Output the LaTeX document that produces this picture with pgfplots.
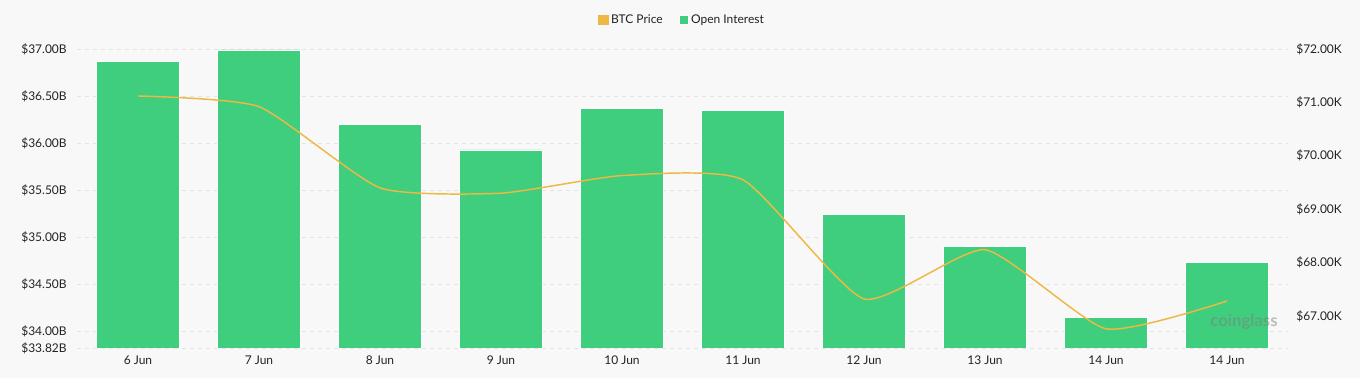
\documentclass[border=0pt]{standalone}
\usepackage{pgfplots}
\pgfplotsset{compat=1.18}
\usepackage{fontspec}
\setmainfont{Lato}
\definecolor{bggray}{HTML}{F8F8F8}
\definecolor{oigreen}{HTML}{3ECE7E}
\definecolor{btcgold}{HTML}{EDB844}
\definecolor{gridc}{HTML}{E4E4E4}
\definecolor{txt}{HTML}{222222}
\begin{document}
\begin{tikzpicture}[font=\fontsize{9}{11}\selectfont, text=txt]
\fill[bggray, use as bounding box] (-58.125pt,-22.5pt) rectangle (961.875pt,261pt);
\begin{axis}[
  at={(0,0)}, anchor=south west,
  scale only axis, width=907.5pt, height=224.25pt,
  xmin=-0.5, xmax=9.5, ymin=33.82, ymax=37.0,
  axis line style={draw=none}, major tick length=0pt,
  xtick={0,...,9},
  xticklabels={6 Jun,7 Jun,8 Jun,9 Jun,10 Jun,11 Jun,12 Jun,13 Jun,14 Jun,14 Jun},
  xticklabel style={anchor=north, inner sep=0pt, yshift=-5.5pt},
  ytick={33.82,34,34.5,35,35.5,36,36.5,37},
  yticklabels={\$33.82B,\$34.00B,\$34.50B,\$35.00B,\$35.50B,\$36.00B,\$36.50B,\$37.00B},
  yticklabel style={anchor=east, inner sep=0pt, xshift=-7.9pt},
  ymajorgrids, grid style={gridc, dash pattern=on 3pt off 3pt, line width=0.5pt},
  legend columns=2,
  legend style={at={(0.5,1.097)}, anchor=center, draw=none, fill=none,
    font=\fontsize{9}{11}\selectfont, inner sep=0pt,
    /tikz/every even column/.append style={column sep=10pt}},
  legend image code/.code={\fill[#1] (0pt,-3.5pt) rectangle (7pt,3.5pt);},
]
\addlegendimage{btcgold}
\addlegendentry{BTC Price}
\addplot[ybar, bar width=0.686, fill=oigreen, draw=white, line width=0.3pt]
  coordinates {(0,36.872) (1,36.99) (2,36.20) (3,35.926) (4,36.37) (5,36.35)
               (6,35.245) (7,34.904) (8,34.149) (9,34.734)};
\addlegendentry{Open Interest}
\end{axis}
\begin{axis}[
  at={(0,0)}, anchor=south west,
  scale only axis, width=907.5pt, height=224.25pt,
  xmin=-0.5, xmax=9.5, ymin=66.40, ymax=72.0,
  axis y line*=right, hide x axis,
  axis line style={draw=none}, major tick length=0pt,
  ytick={67,68,69,70,71,72},
  yticklabels={\$67.00K,\$68.00K,\$69.00K,\$70.00K,\$71.00K,\$72.00K},
  yticklabel style={anchor=west, inner sep=0pt, xshift=6.4pt},
]
\node[text=gray, opacity=0.5, font=\bfseries\fontsize{12.5}{12.5}\selectfont] at (axis cs:9.14,66.89) {coinglass};
\addplot[btcgold, line width=1.1pt, smooth, tension=0.33]
  coordinates {(0,71.12) (1,70.92) (2,69.40) (3,69.30) (4,69.63) (5,69.55)
               (6,67.32) (7,68.24) (8,66.76) (9,67.28)};
\end{axis}
\end{tikzpicture}
\end{document}
